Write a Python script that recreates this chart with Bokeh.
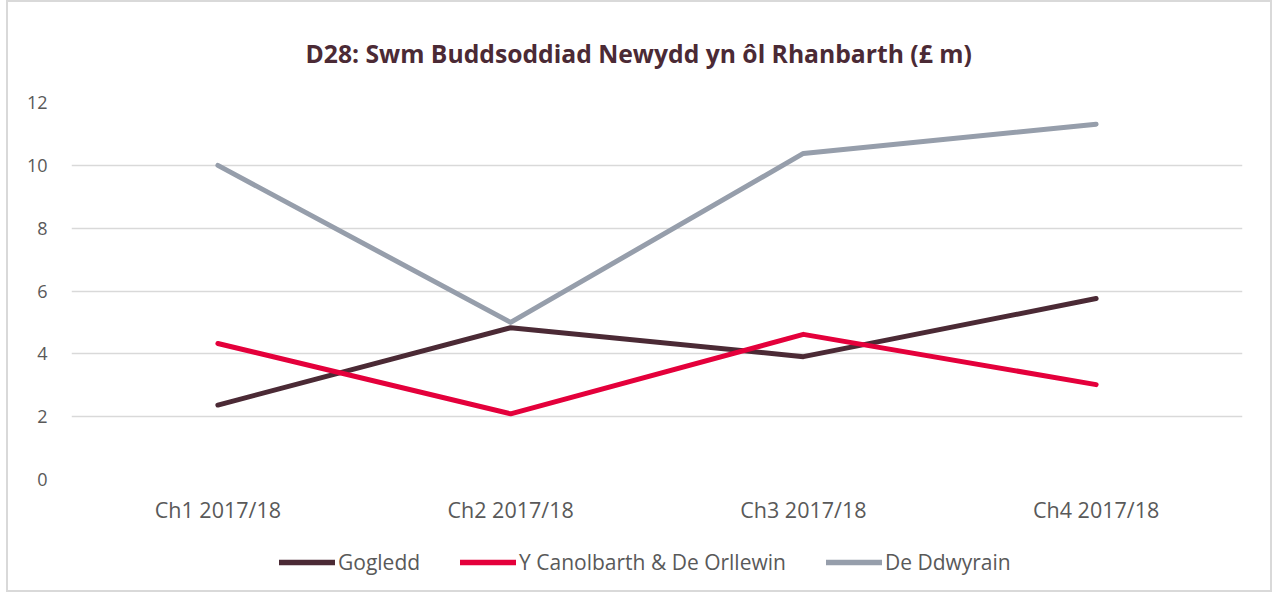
from bokeh.plotting import figure
from bokeh.layouts import column
from bokeh.models import FactorRange, Range1d, FixedTicker, Legend, LegendItem, ColumnDataSource
from bokeh.embed import file_html
from bokeh.resources import INLINE

categories = ["Ch1 2017/18", "Ch2 2017/18", "Ch3 2017/18", "Ch4 2017/18"]
gogledd = [2.37, 4.83, 3.91, 5.76]
canolbarth = [4.33, 2.09, 4.62, 3.02]
de_ddwyrain = [10.0, 5.0, 10.38, 11.31]
y_ticks = [0, 2, 4, 6, 8, 10, 12]

series = [
    ("Gogledd", gogledd, "#4b2a35"),
    ("Y Canolbarth & De Orllewin", canolbarth, "#e4003b"),
    ("De Ddwyrain", de_ddwyrain, "#969eab"),
]

FONT = "Open Sans"
TEXT = "#595959"
LW = 5

p = figure(
    frame_width=1171, frame_height=377,
    x_range=FactorRange(factors=categories, range_padding=0),
    y_range=Range1d(0, 12),
    output_backend="svg", toolbar_location=None,
    title="D28: Swm Buddsoddiad Newydd yn ôl Rhanbarth (£ m)",
    min_border_left=63, min_border_right=28, min_border_top=100, min_border_bottom=50,
)
p.outline_line_color = None
p.background_fill_color = "white"
p.border_fill_color = "white"

p.title.align = "left"
p.title.vertical_align = "middle"
p.title.offset = 234
p.title.standoff = 64
p.title.text_font = FONT
p.title.text_font_style = "bold"
p.title.text_font_size = "24.7px"
p.title.text_color = "#4b2a35"

p.xgrid.grid_line_color = None
p.ygrid.grid_line_color = "#d9d9d9"
p.ygrid.grid_line_width = 1.3
p.yaxis.ticker = FixedTicker(ticks=y_ticks)

for ax in (p.xaxis, p.yaxis):
    ax.axis_line_color = None
    ax.major_tick_line_color = None
    ax.minor_tick_line_color = None
    ax.major_tick_out = 0
    ax.major_tick_in = 0
    ax.major_label_text_font = FONT
    ax.major_label_text_color = TEXT
p.yaxis.major_label_text_font_size = "18px"
p.yaxis.major_label_standoff = 24
p.xaxis.major_label_text_font_size = "21.5px"
p.xaxis.major_label_standoff = 15

for name, vals, color in series:
    src = ColumnDataSource(dict(x=categories, y=vals))
    p.line("x", "y", source=src, line_color=color, line_width=LW, line_cap="round", line_join="round")

# legend strip below the chart (keys only, no data drawn)
pl = figure(
    width=1262, height=61, min_border=0,
    x_range=Range1d(0, 1), y_range=Range1d(0, 1),
    x_axis_type=None, y_axis_type=None,
    output_backend="svg", toolbar_location=None,
)
pl.outline_line_color = None
pl.grid.grid_line_color = None
pl.background_fill_color = "white"
pl.border_fill_color = "white"

items = []
for name, vals, color in series:
    key_src = ColumnDataSource(dict(x=[float("nan")], y=[float("nan")]))
    r = pl.line("x", "y", source=key_src, line_color=color, line_width=LW + 0.5, line_cap="round")
    items.append(LegendItem(label=name, renderers=[r]))

legend = Legend(
    items=items, orientation="horizontal", location=(208, 14),
    padding=0, margin=0, spacing=40, label_standoff=3,
    glyph_width=56, glyph_height=20,
    label_text_font=FONT, label_text_font_size="21px", label_text_color=TEXT,
    border_line_color=None, background_fill_alpha=0,
)
pl.add_layout(legend, "center")

layout = column(p, pl, spacing=0)
layout.styles = {"border": "2px solid #d9d9d9", "margin-left": "6px"}

open("out.html", "w").write(file_html(layout, INLINE))
